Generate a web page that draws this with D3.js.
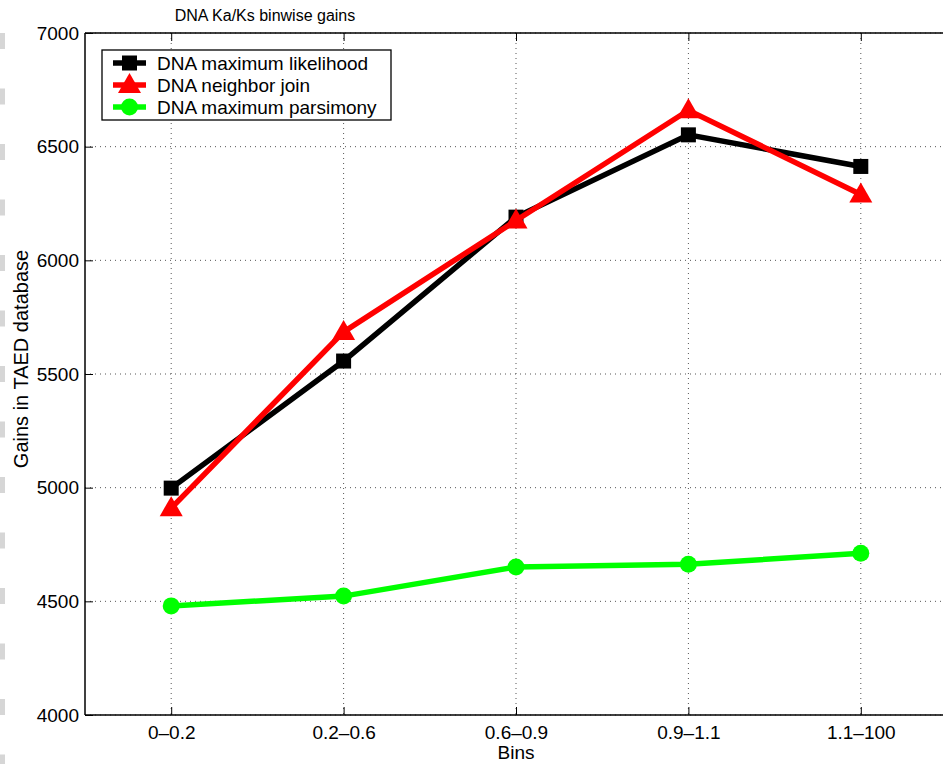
<!DOCTYPE html>
<html><head><meta charset="utf-8">
<script src="https://cdn.jsdelivr.net/npm/d3@7"></script>
<style>body{margin:0;background:#fff}svg{display:block}text{font-family:"Liberation Sans",Arial,sans-serif}</style>
</head><body>
<script>
const categories = ["0\u20130.2","0.2\u20130.6","0.6\u20130.9","0.9\u20131.1","1.1\u2013100"];
const mlValues = [4998, 5557, 6190, 6552, 6413];
const njValues = [4910, 5685, 6175, 6660, 6290];
const mpValues = [4480, 4523, 4651, 4663, 4712];
const yTicks = [4000, 4500, 5000, 5500, 6000, 6500, 7000];
const seriesNames = ["DNA maximum likelihood","DNA neighbor join","DNA maximum parsimony"];
const seriesColors = ["#000000","#ff0000","#00ff00"];
const seriesMarkers = ["square","triangle","circle"];
const title = "DNA Ka/Ks binwise gains";
const xLabel = "Bins";
const yLabel = "Gains in TAED database";

const W = 943, H = 764;
const L = 85, T = 33, R = 947, B = 715;
const svg = d3.select("body").append("svg").attr("width", W).attr("height", H);

// page-edge artifacts
for (let y = 33; y < H; y += 55.5) {
  svg.append("rect").attr("x", 0).attr("y", y).attr("width", 5).attr("height", 16).attr("fill", "#d6d6d6");
}

const x = d3.scalePoint().domain(categories).range([L + 86.2, R - 86.2]);
const y = d3.scaleLinear().domain([4000, 7000]).range([B, T]);

// grid
const g = svg.append("g");
yTicks.forEach(v => {
  g.append("line").attr("x1", L).attr("x2", R).attr("y1", y(v)).attr("y2", y(v))
    .attr("stroke", "#555").attr("stroke-width", 1).attr("stroke-dasharray", "1,4");
});
categories.forEach(c => {
  g.append("line").attr("x1", x(c)).attr("x2", x(c)).attr("y1", T).attr("y2", B)
    .attr("stroke", "#555").attr("stroke-width", 1).attr("stroke-dasharray", "1,4");
});

// axes
const yAxis = d3.axisLeft(y).tickValues(yTicks).tickSize(-8).tickPadding(6).tickFormat(d3.format("d"));
const ya = svg.append("g").attr("transform", `translate(${L},0)`).call(yAxis);
ya.select(".domain").remove();
ya.selectAll("text").attr("font-size", 19).attr("fill", "#000");
ya.selectAll("line").attr("stroke", "#000");

const xAxis = d3.axisBottom(x).tickSize(-8).tickPadding(11);
const xa = svg.append("g").attr("transform", `translate(0,${B})`).call(xAxis);
xa.select(".domain").remove();
xa.selectAll("text").attr("font-size", 19).attr("fill", "#000").attr("dy", "0.71em");
xa.selectAll("line").attr("stroke", "#000");

const xt = svg.append("g").attr("transform", `translate(0,${T})`).call(d3.axisTop(x).tickSize(-8).tickFormat(""));
xt.select(".domain").remove();
xt.selectAll("line").attr("stroke", "#000");

// box
svg.append("line").attr("x1", L).attr("x2", R).attr("y1", T).attr("y2", T).attr("stroke", "#000").attr("stroke-width", 1.5);
svg.append("line").attr("x1", L).attr("x2", R).attr("y1", B).attr("y2", B).attr("stroke", "#000").attr("stroke-width", 1.5);
svg.append("line").attr("x1", L).attr("x2", L).attr("y1", T).attr("y2", B).attr("stroke", "#000").attr("stroke-width", 1.5);

// labels
svg.append("text").attr("x", 265).attr("y", 21).attr("text-anchor", "middle").attr("font-size", 16).text(title);
svg.append("text").attr("x", x(categories[2])).attr("y", 759).attr("text-anchor", "middle").attr("font-size", 19).text(xLabel);
svg.append("text").attr("transform", `translate(28,359) rotate(-90)`).attr("text-anchor", "middle").attr("font-size", 20).text(yLabel);

function drawMarker(sel, type, cx, cy, color) {
  if (type === "square") {
    sel.append("rect").attr("x", cx - 7.5).attr("y", cy - 7.5).attr("width", 15).attr("height", 15).attr("fill", color);
  } else if (type === "triangle") {
    sel.append("path").attr("d", `M${cx},${cy - 12}L${cx + 11.5},${cy + 8}L${cx - 11.5},${cy + 8}Z`).attr("fill", color);
  } else {
    sel.append("circle").attr("cx", cx).attr("cy", cy).attr("r", 8.5).attr("fill", color);
  }
}

const seriesValues = [mlValues, njValues, mpValues];
const line = d3.line().x((d, i) => x(categories[i])).y(d => y(d));
const plot = svg.append("g");
seriesValues.forEach((vals, s) => {
  const sg = plot.append("g");
  sg.append("path").attr("d", line(vals)).attr("fill", "none").attr("stroke", seriesColors[s])
    .attr("stroke-width", 5.5).attr("stroke-linejoin", "miter");
  vals.forEach((v, i) => drawMarker(sg, seriesMarkers[s], x(categories[i]), y(v), seriesColors[s]));
});

// legend
const lg = svg.append("g");
lg.append("rect").attr("x", 102).attr("y", 50).attr("width", 289).attr("height", 70)
  .attr("fill", "#fff").attr("stroke", "#000").attr("stroke-width", 1.3);
const rowsY = [63, 85, 107];
seriesNames.forEach((n, s) => {
  lg.append("line").attr("x1", 113).attr("x2", 146).attr("y1", rowsY[s]).attr("y2", rowsY[s])
    .attr("stroke", seriesColors[s]).attr("stroke-width", 5.5);
  drawMarker(lg, seriesMarkers[s], 129.5, rowsY[s], seriesColors[s]);
  lg.append("text").attr("x", 157).attr("y", rowsY[s] + 7).attr("font-size", 19).text(n);
});
</script>
</body></html>
